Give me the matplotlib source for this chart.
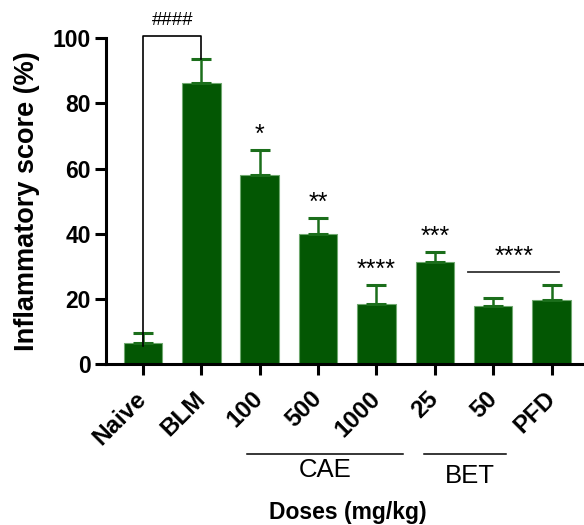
import numpy as np
import matplotlib.pyplot as plt
import matplotlib.transforms as mtransforms

plt.rcParams['font.family'] = ['Liberation Sans', 'DejaVu Sans']

groups = ["Naive", "BLM", "100", "500", "1000", "25", "50", "PFD"]
score = [6.4, 86.3, 58.0, 39.8, 18.3, 31.2, 17.7, 19.6]
sem = [3.1, 7.5, 7.6, 5.1, 5.9, 3.2, 2.5, 4.6]
stars = ["", "", "*", "**", "****", "***", "", ""]

x = np.arange(len(groups))

fig = plt.figure(figsize=(5.84, 5.25), dpi=100)
ax = fig.add_axes([0.1815, 0.3067, 0.815, 0.6203])

green = '#035703'
ax.bar(x, score, width=0.66, color=green, edgecolor='#6fa86f', linewidth=0.8, zorder=2)
ax.errorbar(x, score, yerr=[np.zeros(len(sem)), sem], fmt='none', ecolor='#1b6e1b',
            elinewidth=1.8, capsize=7, capthick=2.2, zorder=3)

ax.set_xlim(-0.634, 7.52)
ax.set_ylim(0, 100)
ax.set_yticks([0, 20, 40, 60, 80, 100])
ax.set_xticks(x)
ax.set_xticklabels([])
for lab in ax.get_yticklabels():
    lab.set_fontsize(16.5)
    lab.set_fontweight('bold')
ax.tick_params(axis='both', length=8, width=2.2, color='black', direction='out', pad=3)

# rotated x labels, drawn as text so they can be nudged
trans = ax.get_xaxis_transform()
shift = mtransforms.ScaledTranslation(-0.08, -0.23, fig.dpi_scale_trans)
for i, g in enumerate(groups):
    ax.text(x[i], 0, g, rotation=45, ha='right', va='top', rotation_mode='anchor',
            fontsize=17.5, fontweight='bold', transform=trans + shift)

for s in ['top', 'right']:
    ax.spines[s].set_visible(False)
for s in ['left', 'bottom']:
    ax.spines[s].set_linewidth(2.2)

ax.set_ylabel("Inflammatory score (%)", fontsize=19.5, fontweight='bold', labelpad=9)

# significance stars above error bars
for i, st in enumerate(stars):
    if st:
        ax.text(x[i], score[i] + sem[i] + 1.0, st, ha='center', va='bottom', fontsize=18)

# bracket Naive vs BLM
top = 100.8
ax.plot([0, 0, 1, 1], [score[0] + sem[0] - 4, top, top, score[1] + sem[1]],
        color='black', lw=1.2, clip_on=False, zorder=4)
ax.text(0.5, top + 2.0, "####", ha='center', va='bottom', fontsize=13.5, clip_on=False)

# line over BET 50 and PFD
ax.plot([5.57, 7.12], [28.1, 28.1], color='#333333', lw=1.3)
ax.text(6.35, 29.3, "****", ha='center', va='bottom', fontsize=18)

# group labels under x axis
def px(xv):
    return (xv - 143) / 58.4

ax.plot([px(246.7), px(402.7)], [-0.277, -0.277], color='black', lw=1.1,
        transform=trans, clip_on=False)
ax.plot([px(424), px(505.7)], [-0.275, -0.275], color='black', lw=1.1,
        transform=trans, clip_on=False)
ax.text(px(325), -0.325, "CAE", ha='center', va='center', fontsize=18.5, transform=trans)
ax.text(px(470), -0.345, "BET", ha='center', va='center', fontsize=18.5, transform=trans)
ax.text(px(348), -0.455, "Doses (mg/kg)", ha='center', va='center', fontsize=16.5,
        fontweight='bold', transform=trans)

plt.savefig('out.png', dpi=100)
